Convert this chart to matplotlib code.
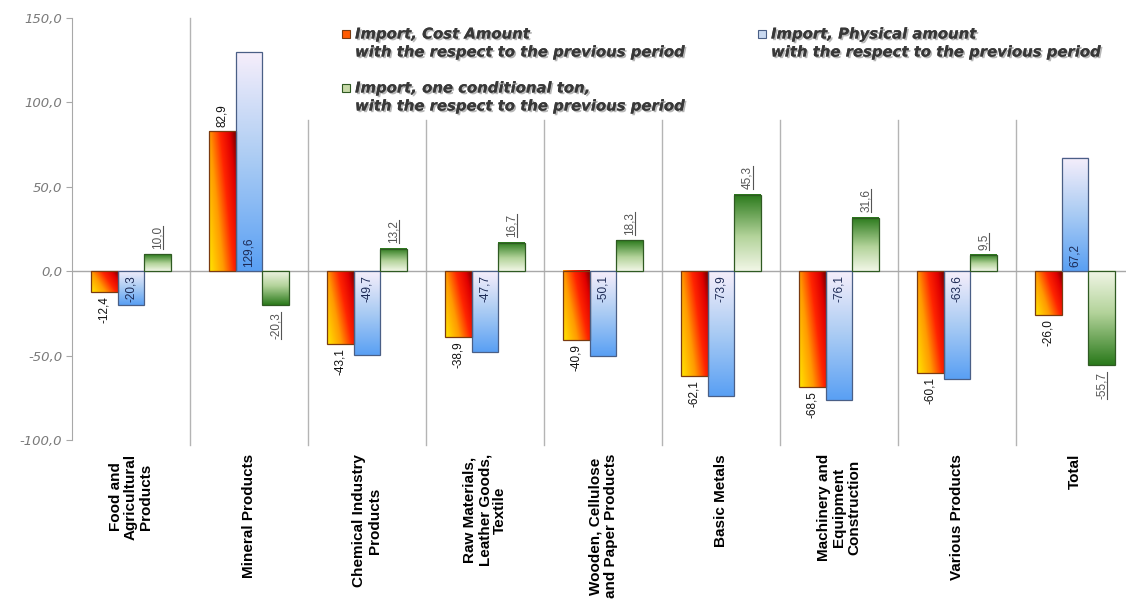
import numpy as np
import matplotlib
matplotlib.use('Agg')
import matplotlib.pyplot as plt
import matplotlib.patheffects as pe
from matplotlib.colors import LinearSegmentedColormap
from matplotlib.patches import Rectangle
from matplotlib.lines import Line2D

categories = ['Food and\nAgricultural\nProducts', 'Mineral Products',
              'Chemical Industry\nProducts', 'Raw Materials,\nLeather Goods,\nTextile',
              'Wooden, Cellulose\nand Paper Products', 'Basic Metals',
              'Machinery and\nEquipment\nConstruction', 'Various Products', 'Total']
cost = [-12.4, 82.9, -43.1, -38.9, -40.9, -62.1, -68.5, -60.1, -26.0]
physical = [-20.3, 129.6, -49.7, -47.7, -50.1, -73.9, -76.1, -63.6, 67.2]
cond_ton = [10.0, -20.3, 13.2, 16.7, 18.3, 45.3, 31.6, 9.5, -55.7]
series_names = ['Import, Cost Amount\nwith the respect to the previous period',
                'Import, Physical amount\nwith the respect to the previous period',
                'Import, one conditional ton,\nwith the respect to the previous period']
yticks = [-100, -50, 0, 50, 100, 150]

W, H = 1126, 613
fig = plt.figure(figsize=(W / 100, H / 100), dpi=100)
ax = fig.add_axes([72 / W, (H - 440) / H, (W - 72) / W, 422 / H])

red_cm = LinearSegmentedColormap.from_list('r', [(0, '#ffe600'), (0.35, '#ff9a00'),
                                                 (0.62, '#ff2400'), (0.85, '#e00000'),
                                                 (1, '#7a0000')])
blue_cm = LinearSegmentedColormap.from_list('b', [(0, '#5aa0f4'), (0.5, '#a9cbf3'),
                                                  (1, '#f5eefb')])
green_cm = LinearSegmentedColormap.from_list('g', [(0, '#f1f6e6'), (0.45, '#b3d39a'),
                                                   (1, '#2b7a1c')])

x = np.arange(len(categories))
bw = 0.225
gx, gy = np.meshgrid(np.linspace(0, 1, 40), np.linspace(0, 1, 80))


def grad_bars(vals, offset, cmap, edge, kind):
    bars = ax.bar(x + offset, vals, bw, facecolor='none', edgecolor=edge,
                  linewidth=0.9, zorder=4)
    for b, v in zip(bars, vals):
        x0, y0 = b.get_x(), b.get_y()
        x1, y1 = x0 + b.get_width(), y0 + b.get_height()
        if kind == 'red':
            t = np.clip(0.65 * gx + 0.35 * gy, 0, 1)
        elif kind == 'blue':
            t = gy
        else:
            t = gy if v > 0 else 1 - gy
        ax.imshow(t, extent=[x0, x1, min(y0, y1), max(y0, y1)], origin='lower',
                  aspect='auto', cmap=cmap, vmin=0, vmax=1, zorder=3,
                  interpolation='bilinear')
    return bars


grad_bars(cost, -bw, red_cm, '#7a3a10', 'red')
grad_bars(physical, 0, blue_cm, '#4a5f86', 'blue')
grad_bars(cond_ton, bw, green_cm, '#2f5a22', 'green')

fmt = lambda v: f'{v:.1f}'.replace('.', ',')
lab = dict(rotation=90, ha='center', fontsize=8.5, family='Liberation Sans',
           textcoords='offset points', zorder=6)
for i in range(len(categories)):
    v = cost[i]
    ax.annotate(fmt(v), (x[i] - bw, v), xytext=(0, 3 if v > 0 else -3),
                va='bottom' if v > 0 else 'top', color='#111111', **lab)
    v = physical[i]
    ax.annotate(fmt(v), (x[i], 0), xytext=(0, 3 if v > 0 else -3),
                va='bottom' if v > 0 else 'top', color='#1c2a55', **lab)
green_txt = []
for i in range(len(categories)):
    v = cond_ton[i]
    t = ax.annotate(fmt(v), (x[i] + bw, v), xytext=(0, 4 if v > 0 else -5),
                    va='bottom' if v > 0 else 'top', color='#555555', **lab)
    green_txt.append(t)

# separators and zero line
for k in range(len(categories) - 1):
    top = 150 if k == 0 else 89.5
    ax.plot([k + 0.5, k + 0.5], [-103, top], color='#b4b4b4', lw=1.0,
            clip_on=False, zorder=1)
ax.axhline(0, color='#a8a8a8', lw=1.0, zorder=2)

ax.set_xlim(-0.5, -0.5 + (W - 72) / 118.0)
ax.set_ylim(-100, 150)
for s in ['top', 'right', 'bottom']:
    ax.spines[s].set_visible(False)
ax.spines['left'].set_color('#a8a8a8')
ax.set_yticks(yticks)
ax.set_yticklabels([fmt(v) for v in yticks], fontsize=9.5, style='italic',
                   color='#7a7a7a', family='DejaVu Sans')
ax.tick_params(axis='y', length=4, color='#a8a8a8', pad=3)
ax.set_xticks(x)
ax.set_xticklabels(categories, rotation=90, va='top', ha='center',
                   multialignment='center', fontsize=11, fontweight='bold',
                   family='Liberation Sans', linespacing=1.1)
ax.tick_params(axis='x', length=0, pad=10)

# legend
shadow = [pe.withSimplePatchShadow(offset=(1.2, -1.2), alpha=0.3), pe.Normal()]
leg_items = [(342, 34, '#ff5a00', '#7a3a10', series_names[0]),
             (758, 34, '#c9d9f0', '#4a5f86', series_names[1]),
             (342, 88, '#c7d9a8', '#2f5a22', series_names[2])]
for px, py, fc, ec, name in leg_items:
    fig.add_artist(Rectangle((px / W, 1 - (py + 4) / H), 8 / W, 8 / H,
                             facecolor=fc, edgecolor=ec, lw=0.8,
                             transform=fig.transFigure))
    for j, line in enumerate(name.split('\n')):
        fig.text((px + 13) / W, 1 - (py + 18 * j) / H, line, va='center',
                 ha='left', fontsize=10.7, fontweight='bold', style='italic',
                 color='#383838', family='DejaVu Sans', path_effects=shadow)

# underline green labels
fig.canvas.draw()
r = fig.canvas.get_renderer()
for t in green_txt:
    bb = t.get_window_extent(r)
    fig.add_artist(Line2D([(bb.x1 - 1) / W] * 2, [bb.y0 / H, bb.y1 / H],
                          color='#555555', lw=0.8, transform=fig.transFigure))

fig.savefig('out.png', dpi=100)
